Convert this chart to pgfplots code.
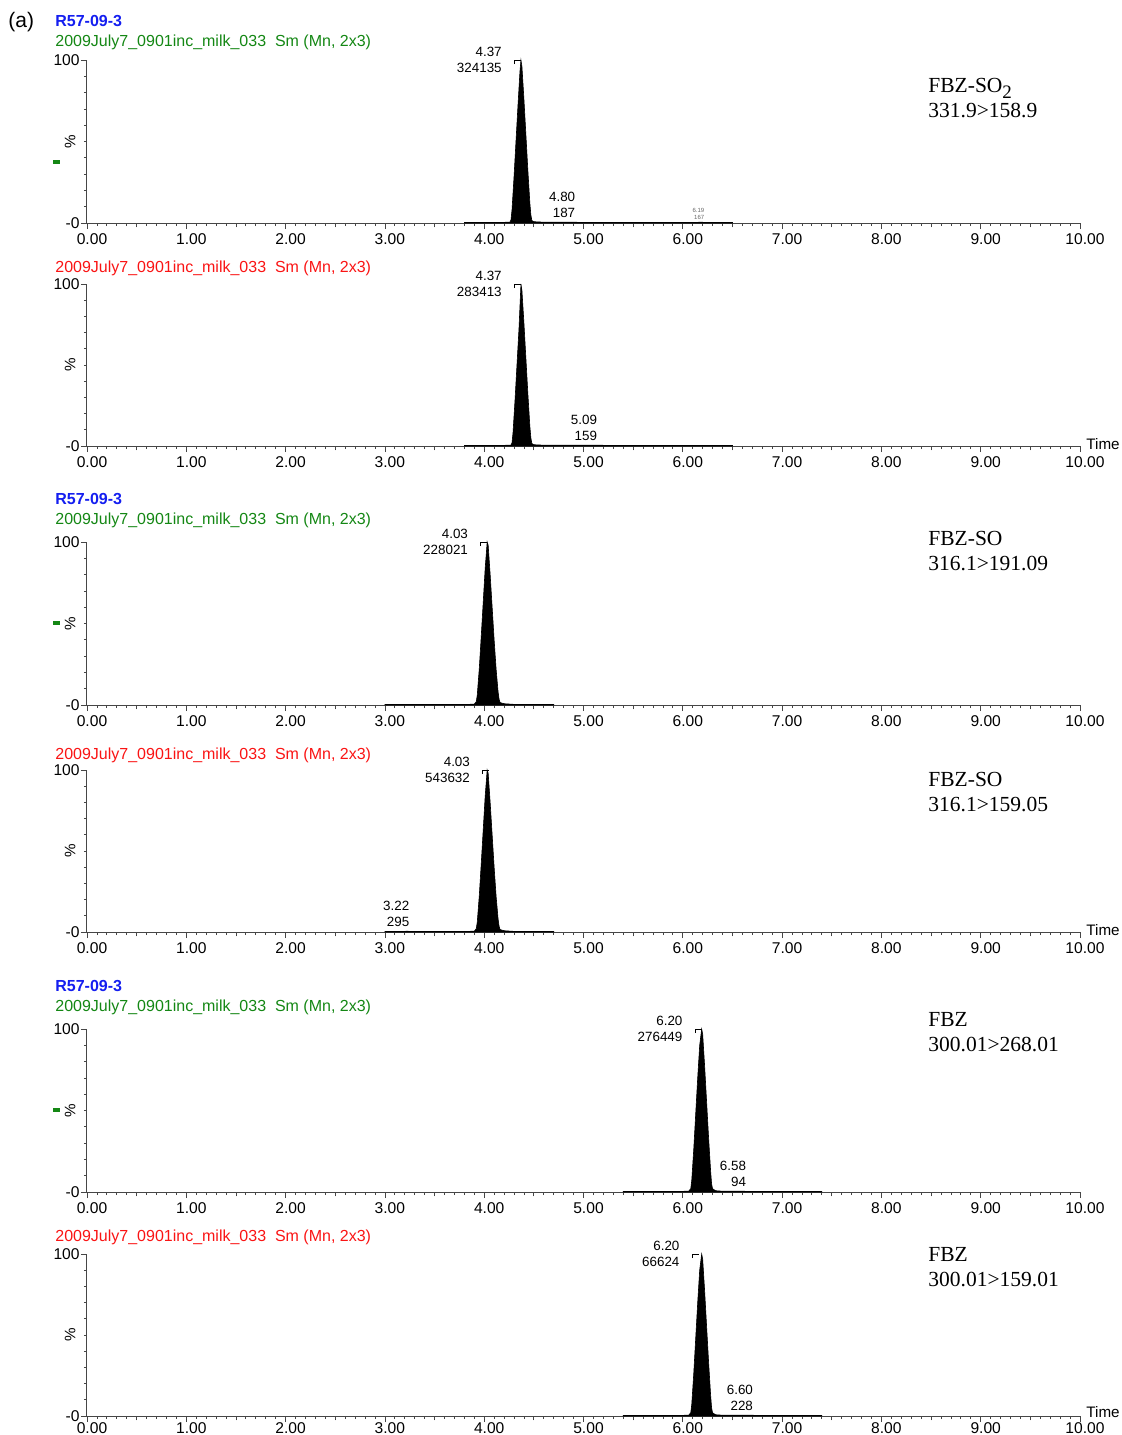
\documentclass[border=0pt]{standalone}
\usepackage{fontspec}
\setmainfont{Liberation Sans}
\newfontfamily\timesfont{Liberation Serif}
\usepackage{pgfplots}
\pgfplotsset{compat=1.18}
\definecolor{hblue}{RGB}{20,30,240}
\definecolor{hgreen}{RGB}{20,135,20}
\definecolor{hred}{RGB}{250,20,20}
\definecolor{axgray}{RGB}{70,70,70}

\pgfplotstableread{
x y
3.80 0.3
4.00 0.4
4.20 0.4
4.26 0.6
4.27 2
4.28 8
4.30 28
4.32 50
4.34 72
4.36 93
4.37 100
4.38 96
4.40 76
4.42 54
4.44 32
4.46 12
4.47 5
4.48 1.5
4.50 0.8
4.60 0.5
4.80 0.5
5.00 0.4
5.50 0.4
6.00 0.35
6.19 0.45
6.30 0.3
6.50 0.3
}\tabA
\pgfplotstableread{
x y
3.80 0.3
4.00 0.4
4.20 0.4
4.27 0.6
4.28 2
4.29 8
4.31 28
4.33 50
4.35 72
4.37 100
4.38 96
4.40 76
4.42 54
4.44 32
4.46 12
4.47 5
4.48 1.5
4.50 0.8
4.60 0.5
5.09 0.45
5.50 0.4
6.00 0.35
6.50 0.3
}\tabB
\pgfplotstableread{
x y
3.00 0.3
3.50 0.3
3.80 0.35
3.90 0.5
3.92 2
3.93 6
3.95 22
3.97 42
3.99 63
4.01 84
4.03 100
4.04 98
4.06 80
4.08 60
4.10 40
4.12 22
4.14 8
4.15 3.5
4.16 1.5
4.20 0.8
4.30 0.4
4.70 0.3
}\tabC
\pgfplotstableread{
x y
3.00 0.3
3.22 0.45
3.50 0.3
3.80 0.35
3.90 0.5
3.92 2
3.93 6
3.95 22
3.97 42
3.99 63
4.01 84
4.03 100
4.04 98
4.06 80
4.08 60
4.10 40
4.12 22
4.14 8
4.15 3.5
4.16 1.5
4.20 0.8
4.30 0.4
4.70 0.3
}\tabD
\pgfplotstableread{
x y
5.40 0.3
5.80 0.35
6.00 0.4
6.06 0.6
6.08 2
6.09 7
6.11 26
6.13 48
6.15 70
6.17 90
6.19 100
6.20 97
6.22 77
6.24 55
6.26 33
6.28 13
6.29 5
6.30 2
6.33 0.8
6.40 0.5
6.58 0.45
6.80 0.4
7.00 0.35
7.40 0.3
}\tabE
\pgfplotstableread{
x y
5.40 0.3
5.80 0.35
6.00 0.4
6.06 0.6
6.08 2
6.09 7
6.11 26
6.13 48
6.15 70
6.17 90
6.19 100
6.20 97
6.22 77
6.24 55
6.26 33
6.28 13
6.29 5
6.30 2
6.33 0.8
6.40 0.5
6.60 0.5
6.80 0.4
7.00 0.35
7.40 0.3
}\tabF

\pgfplotsset{
 chrom/.style={
  scale only axis, width=496.5pt,
  xmin=0, xmax=10, ymin=0, ymax=100,
  axis lines=left,
  axis line style={-, draw=axgray, line width=0.5pt},
  every tick/.style={draw=axgray, line width=0.4pt},
  tick align=outside,
  major tick length=3pt, minor tick length=1.5pt,
  xtick={0,1,...,10},
  xticklabels={0.00,1.00,2.00,3.00,4.00,5.00,6.00,7.00,8.00,9.00,10.00},
  minor x tick num=9,
  extra x ticks={0.5,1.5,...,9.5}, extra x tick labels={},
  extra x tick style={major tick length=2.2pt},
  ytick={0,100}, yticklabels={-0,100},
  minor ytick={10,20,...,90},
  tick label style={font=\fontsize{7.8}{8}\selectfont},
  xticklabel style={xshift=2.5pt, yshift=1.2pt},
  yticklabel style={xshift=2.8pt},
  ylabel={\%},
  ylabel style={at={(axis description cs:-0.017,0.5)}, anchor=center, font=\fontsize{7.6}{8}\selectfont},
  clip=false,
 },
}
\tikzset{
 pk/.style={draw=black, fill=black, line width=0.3pt},
 ann/.style={font=\fontsize{6.7}{8}\selectfont, align=right, inner sep=0pt},
}
\newcommand{\mainpk}[3]{%
  \node[ann, anchor=east] at (axis cs:#1-0.19,100) {#2\\#3};
  \draw[black, line width=0.4pt] (axis cs:#1-0.065,97.5) -- (axis cs:#1-0.065,100) -- (axis cs:#1,100);
}
\newcommand{\smallpk}[3]{%
  \node[ann, anchor=south east, yshift=2.5pt] at (axis cs:#1,0) {#2\\#3};
}
\newcommand{\timelab}[1][1pt]{%
  \node[anchor=west, inner sep=0pt, font=\fontsize{7.6}{8}\selectfont] at ([xshift=3pt,yshift=#1]rel axis cs:1,0) {Time};
}

\begin{document}
\begin{tikzpicture}
\useasboundingbox (0,0) rectangle (560.5pt,-717.5pt);

% Panel 1
\begin{axis}[chrom, height=81.5pt, at={(43.5pt,-111.5pt)}, anchor=south west]
\addplot[pk] table[x=x,y=y]{\tabA} \closedcycle;
\mainpk{4.37}{4.37}{324135}
\smallpk{4.92}{4.80}{187}
\node[inner sep=0pt, anchor=south east, align=right, font=\fontsize{3}{3.5}\selectfont, text=black!60, yshift=1.5pt] at (axis cs:6.22,0) {6.19\\167};
\end{axis}

% Panel 2
\begin{axis}[chrom, height=81pt, at={(43.5pt,-223pt)}, anchor=south west]
\addplot[pk] table[x=x,y=y]{\tabB} \closedcycle;
\mainpk{4.37}{4.37}{283413}
\smallpk{5.14}{5.09}{159}
\timelab
\end{axis}

% Panel 3
\begin{axis}[chrom, height=81.5pt, at={(43.5pt,-352.5pt)}, anchor=south west]
\addplot[pk] table[x=x,y=y]{\tabC} \closedcycle;
\mainpk{4.03}{4.03}{228021}
\end{axis}

% Panel 4
\begin{axis}[chrom, height=81pt, at={(43.5pt,-466pt)}, anchor=south west]
\addplot[pk] table[x=x,y=y]{\tabD} \closedcycle;
\mainpk{4.05}{4.03}{543632}
\smallpk{3.25}{3.22}{295}
\timelab
\end{axis}

% Panel 5
\begin{axis}[chrom, height=81.5pt, at={(43.5pt,-596pt)}, anchor=south west]
\addplot[pk] table[x=x,y=y]{\tabE} \closedcycle;
\mainpk{6.19}{6.20}{276449}
\smallpk{6.64}{6.58}{94}
\end{axis}

% Panel 6
\begin{axis}[chrom, height=81pt, at={(43.5pt,-708pt)}, anchor=south west,
  xticklabel style={yshift=2.1pt}]
\addplot[pk] table[x=x,y=y]{\tabF} \closedcycle;
\mainpk{6.16}{6.20}{66624}
\smallpk{6.71}{6.60}{228}
\timelab[1.8pt]
\end{axis}

\begin{scope}[x=0.5pt, y=-0.5pt]
\tikzset{hdr/.style={anchor=base west, inner sep=0pt, font=\fontsize{8}{9}\selectfont},
         rl/.style={anchor=base west, inner sep=0pt, font=\timesfont\fontsize{10.75}{12}\selectfont}}
\node[anchor=base west, inner sep=0pt, font=\fontsize{10.5}{11}\selectfont] at (8,27) {(a)};
% headers
\node[hdr, text=hblue, font=\bfseries\fontsize{8}{9}\selectfont] at (55,26) {R57-09-3};
\node[hdr, text=hgreen] at (55,46) {2009July7\_0901inc\_milk\_033\ \ Sm (Mn, 2x3)};
\node[hdr, text=hred] at (55,272) {2009July7\_0901inc\_milk\_033\ \ Sm (Mn, 2x3)};
\node[hdr, text=hblue, font=\bfseries\fontsize{8}{9}\selectfont] at (55,504) {R57-09-3};
\node[hdr, text=hgreen] at (55,524) {2009July7\_0901inc\_milk\_033\ \ Sm (Mn, 2x3)};
\node[hdr, text=hred] at (55,759) {2009July7\_0901inc\_milk\_033\ \ Sm (Mn, 2x3)};
\node[hdr, text=hblue, font=\bfseries\fontsize{8}{9}\selectfont] at (55,991) {R57-09-3};
\node[hdr, text=hgreen] at (55,1011) {2009July7\_0901inc\_milk\_033\ \ Sm (Mn, 2x3)};
\node[hdr, text=hred] at (55,1241) {2009July7\_0901inc\_milk\_033\ \ Sm (Mn, 2x3)};
% green markers
\fill[hgreen] (53,160) rectangle (60,164);
\fill[hgreen] (53,621) rectangle (60,625);
\fill[hgreen] (53,1108) rectangle (60,1112);
% right labels
\node[rl] at (928,92) {FBZ-SO\raisebox{-0.7ex}{\fontsize{9.5}{10}\selectfont 2}};
\node[rl] at (928,117) {331.9>158.9};
\node[rl] at (928,545) {FBZ-SO};
\node[rl] at (928,570) {316.1>191.09};
\node[rl] at (928,786) {FBZ-SO};
\node[rl] at (928,811) {316.1>159.05};
\node[rl] at (928,1026) {FBZ};
\node[rl] at (928,1051) {300.01>268.01};
\node[rl] at (928,1261) {FBZ};
\node[rl] at (928,1286) {300.01>159.01};
\end{scope}
\end{tikzpicture}
\end{document}
